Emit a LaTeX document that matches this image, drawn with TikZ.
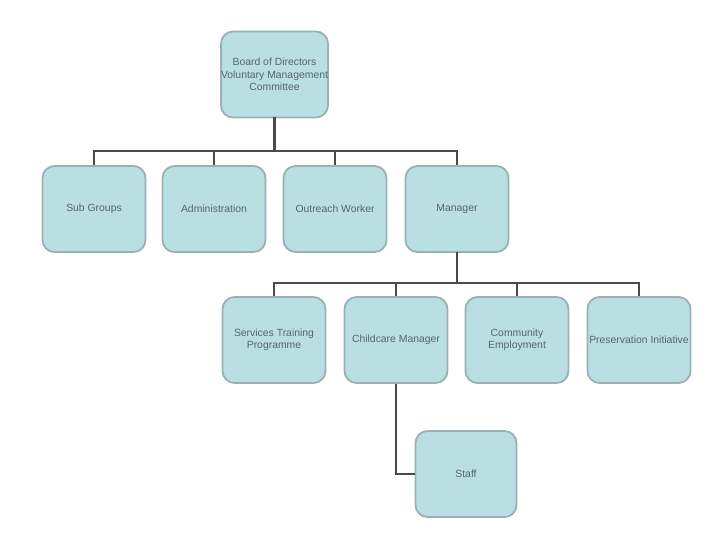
\documentclass[tikz,border=0pt]{standalone}
\usepackage{fontspec}
\setmainfont{Liberation Sans}
\definecolor{boxfill}{HTML}{BADFE2}
\definecolor{boxline}{HTML}{9AB0B2}
\definecolor{boxtext}{HTML}{566668}
\definecolor{conn}{HTML}{4A4A4A}
\begin{document}
\begin{tikzpicture}[x=1pt,y=-1pt,
  orgbox/.style={draw=boxline, line width=1.8pt, fill=boxfill, rounded corners=12pt,
    minimum width=103pt, minimum height=86pt, inner sep=0pt, align=center,
    font=\fontsize{10.4}{12.4}\selectfont, text=boxtext},
  wire/.style={draw=conn, line width=2.6pt}]
\useasboundingbox[fill=white] (0,0) rectangle (717,538);
% nodes
\node[orgbox] (top) at (274.5,74.5) {Board of Directors\\Voluntary Management\\Committee};
\node[orgbox] (sub) at (94,209) {Sub Groups};
\node[orgbox] (adm) at (214,209) {Administration};
\node[orgbox] (out) at (335,209) {Outreach Worker};
\node[orgbox] (mgr) at (457,209) {Manager};
\node[orgbox] (stp) at (274,340) {Services Training\\Programme};
\node[orgbox] (ccm) at (396,340) {Childcare Manager};
\node[orgbox] (com) at (517,340) {Community\\Employment};
\node[orgbox] (pre) at (639,340) {Preservation Initiative};
\node[orgbox, minimum width=101pt] (stf) at (466,474) {Staff};
% buses
\coordinate (bus1) at (0,151);
\coordinate (bus2) at (0,283);
\draw[wire, line cap=rect] (top.south) -- (top.south |- bus1);
\draw[wire] (sub.north) -- (sub.north |- bus1) -- (mgr.north |- bus1) -- (mgr.north);
\draw[wire] (adm.north) -- (adm.north |- bus1);
\draw[wire] (out.north) -- (out.north |- bus1);
\draw[wire, line cap=rect] (mgr.south) -- (mgr.south |- bus2);
\draw[wire] (stp.north) -- (stp.north |- bus2) -- (pre.north |- bus2) -- (pre.north);
\draw[wire] (ccm.north) -- (ccm.north |- bus2);
\draw[wire] (com.north) -- (com.north |- bus2);
\draw[wire] (ccm.south) |- (stf.west);
\end{tikzpicture}
\end{document}
